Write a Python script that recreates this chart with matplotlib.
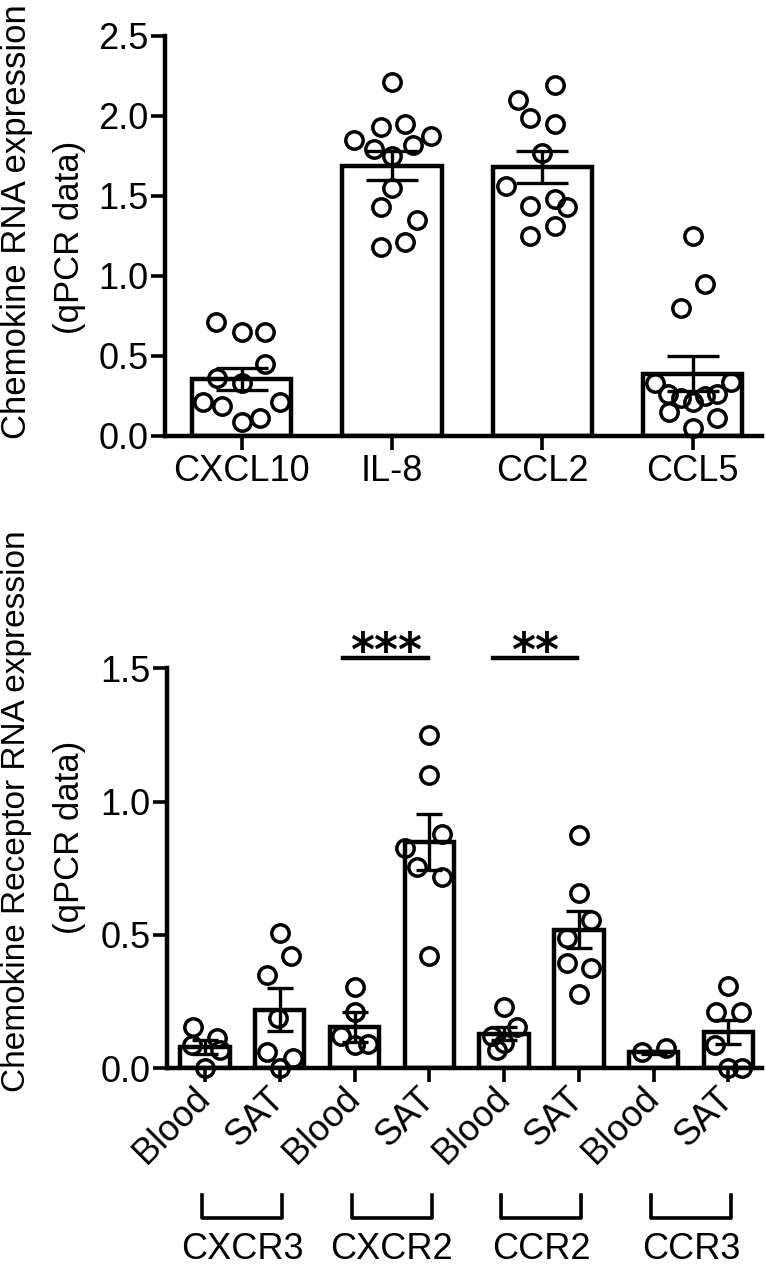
import numpy as np
import matplotlib.pyplot as plt

plt.rcParams['font.family'] = ['Liberation Sans', 'DejaVu Sans']
plt.rcParams['font.size'] = 25

# --- top panel: chemokine expression ---
chemokines = ['CXCL10', 'IL-8', 'CCL2', 'CCL5']
chemo_mean = [0.355, 1.69, 1.68, 0.39]
chemo_sem = [0.07, 0.09, 0.10, 0.11]
chemo_points = [
    [0.71, 0.65, 0.65, 0.45, 0.36, 0.33, 0.21, 0.19, 0.21, 0.11, 0.09],
    [2.21, 1.93, 1.95, 1.85, 1.875, 1.79, 1.82, 1.75, 1.55, 1.43, 1.35, 1.18, 1.21],
    [2.19, 2.10, 1.985, 1.95, 1.77, 1.56, 1.44, 1.48, 1.43, 1.31, 1.25],
    [1.25, 0.95, 0.80, 0.33, 0.34, 0.26, 0.235, 0.21, 0.25, 0.26, 0.15, 0.11, 0.05],
]
chemo_jitter = [
    [-0.17, 0, 0.155, 0.155, -0.165, 0, -0.26, -0.13, 0.255, 0.12, 0],
    [0, -0.075, 0.085, -0.255, 0.26, -0.12, 0.14, 0, 0, -0.075, 0.165, -0.075, 0.085],
    [0.085, -0.16, -0.08, 0.085, 0, -0.24, -0.08, 0.085, 0.165, 0.085, -0.08],
    [0, 0.085, -0.08, -0.25, 0.255, -0.165, -0.08, 0, 0.085, 0.165, -0.16, 0.16, 0],
]

# --- bottom panel: chemokine receptor expression ---
receptors = ['CXCR3', 'CXCR2', 'CCR2', 'CCR3']
tissues = ['Blood', 'SAT']
rec_mean = [0.08, 0.22, 0.155, 0.85, 0.13, 0.52, 0.06, 0.135]
rec_sem = [0.025, 0.08, 0.055, 0.105, 0.025, 0.07, 0.006, 0.045]
rec_points = [
    [0.156, 0.115, 0.087, 0.069, 0.0],
    [0.506, 0.42, 0.35, 0.19, 0.06, 0.04, 0.0],
    [0.306, 0.21, 0.12, 0.087, 0.09],
    [1.25, 1.10, 0.88, 0.825, 0.756, 0.716, 0.42],
    [0.23, 0.12, 0.154, 0.096, 0.069],
    [0.875, 0.656, 0.556, 0.49, 0.396, 0.377, 0.28],
    [0.06, 0.075],
    [0.309, 0.212, 0.212, 0.087, 0.0, 0.0],
]
rec_jitter = [
    [-0.155, 0.165, -0.178, 0.2, 0],
    [0, 0.155, -0.17, -0.02, -0.17, 0.178, 0],
    [0, 0, -0.178, 0.013, 0.178],
    [0, 0, 0.166, -0.325, -0.168, 0.166, 0],
    [0, -0.156, 0.178, 0, -0.09],
    [0, 0, 0.166, -0.156, -0.156, 0.166, 0],
    [-0.155, 0.17],
    [0, -0.165, 0.165, -0.178, 0, 0.178],
]
sig_pairs = [(2, 3, '***'), (4, 5, '**')]

fig = plt.figure(figsize=(7.66, 12.68), dpi=100)
ax1 = fig.add_axes([0.2154, 0.6562, 0.779, 0.3155])
ax2 = fig.add_axes([0.218, 0.1575, 0.7768, 0.3155])


def draw_panel(ax, means, sems, points, jitter, capsize):
    x = np.arange(len(means))
    ax.bar(x, means, width=0.66, color='white', edgecolor='black', linewidth=3.2, zorder=1)
    ax.errorbar(x, means, yerr=sems, fmt='none', ecolor='black', elinewidth=2.4,
                capsize=capsize, capthick=2.4, zorder=2)
    for i in range(len(points)):
        xs = i + np.array(jitter[i])
        ax.plot(xs, points[i], 'o', markersize=12.5, markerfacecolor='none',
                markeredgecolor='black', markeredgewidth=2.5, zorder=3, clip_on=False)
    for s in ['top', 'right']:
        ax.spines[s].set_visible(False)
    for s in ['left', 'bottom']:
        ax.spines[s].set_linewidth(3.2)
    ax.tick_params(width=2.6, length=10, labelsize=26)
    ax.tick_params(axis='y', pad=2)
    return x


x1 = draw_panel(ax1, chemo_mean, chemo_sem, chemo_points, chemo_jitter, 19)
ax1.set_xlim(-0.511, 3.46)
ax1.set_ylim(0, 2.5)
ax1.set_yticks([0, 0.5, 1.0, 1.5, 2.0, 2.5])
ax1.set_yticklabels(['0.0', '0.5', '1.0', '1.5', '2.0', '2.5'])
ax1.set_xticks(x1)
ax1.set_xticklabels(chemokines)
ax1.tick_params(axis='x', pad=3)

x2 = draw_panel(ax2, rec_mean, rec_sem, rec_points, rec_jitter, 9.5)
ax2.set_xlim(-0.508, 7.45)
ax2.set_ylim(0, 1.5)
ax2.set_yticks([0, 0.5, 1.0, 1.5])
ax2.set_yticklabels(['0.0', '0.5', '1.0', '1.5'])
ax2.set_xticks(x2)
ax2.set_xticklabels(tissues * len(receptors), rotation=45, ha='right',
                    va='center', rotation_mode='anchor')
ax2.tick_params(axis='x', pad=8)

# significance bars
for i, j, stars in sig_pairs:
    ax2.plot([i - 0.15, j - 0.02], [1.54, 1.54], color='black', lw=3.2, clip_on=False)
    ax2.text((i + j) / 2 - 0.08, 1.51, stars, ha='center', va='baseline',
             fontsize=33, fontweight='bold', family='DejaVu Sans')

# receptor group brackets
trans = ax2.get_xaxis_transform()
for k, name in enumerate(receptors):
    b, s = 2 * k, 2 * k + 1
    ax2.plot([b - 0.04, b - 0.04, s + 0.03, s + 0.03], [-0.317, -0.374, -0.374, -0.317],
             color='black', lw=2.6, transform=trans, clip_on=False)
    ax2.text(k * 2 + 0.5, -0.454, name, ha='center', va='center', fontsize=26,
             transform=trans)

# y labels
fig.text(0.021, 0.825, 'Chemokine RNA expression', rotation=90, ha='center', va='center')
fig.text(0.091, 0.813, '(qPCR data)', rotation=90, ha='center', va='center')
fig.text(0.021, 0.360, 'Chemokine Receptor RNA expression', rotation=90, ha='center',
         va='center', fontsize=24)
fig.text(0.091, 0.340, '(qPCR data)', rotation=90, ha='center', va='center')

fig.savefig('out.png', dpi=100)
